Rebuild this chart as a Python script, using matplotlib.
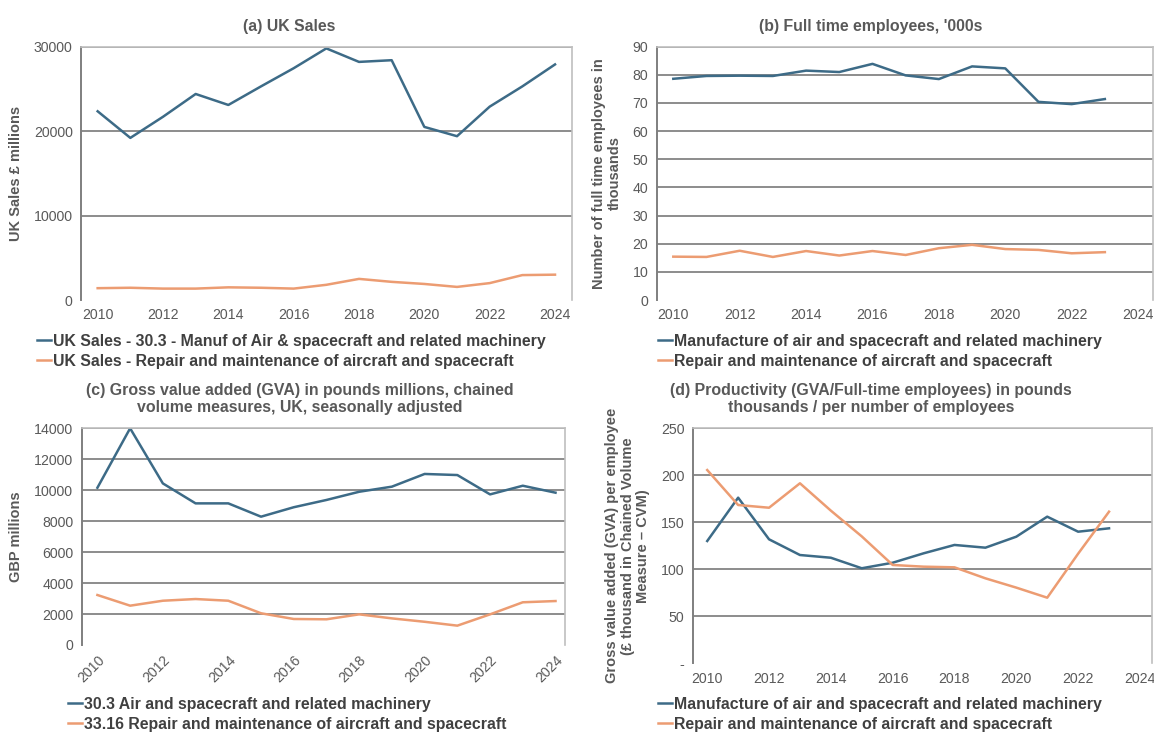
import matplotlib
matplotlib.use("Agg")
from matplotlib import pyplot as plt

plt.rcParams['font.family'] = ['Liberation Sans', 'DejaVu Sans']

years = list(range(2010, 2025))
years_emp = list(range(2010, 2024))

# (a) UK Sales, £ millions
sales_manuf = [22350, 19200, 21700, 24400, 23100, 25300, 27450, 29800,
               28200, 28400, 20500, 19400, 22900, 25300, 27900]
sales_repair = [1400, 1450, 1350, 1350, 1500, 1450, 1350, 1800,
                2500, 2150, 1900, 1550, 2000, 2950, 3000]

# (b) full time employees, thousands
emp_manuf = [78.6, 79.6, 79.7, 79.6, 81.5, 81.0, 83.9, 79.8,
             78.5, 83.0, 82.3, 70.4, 69.6, 71.4]
emp_repair = [15.4, 15.3, 17.5, 15.3, 17.4, 15.8, 17.4, 16.0,
              18.4, 19.6, 18.1, 17.8, 16.6, 17.0]

# (c) GVA, GBP millions, CVM
gva_manuf = [10160, 14000, 10440, 9150, 9150, 8290, 8900, 9370,
             9900, 10230, 11050, 10980, 9730, 10290, 9840]
gva_repair = [3230, 2540, 2860, 2970, 2860, 2050, 1680, 1660,
              1980, 1720, 1500, 1250, 1980, 2760, 2840]

# (d) productivity, £ thousand per employee
prod_manuf = [130.1, 176.2, 131.9, 115.2, 112.3, 101.1, 107.0, 117.0,
              125.9, 123.0, 134.7, 156.0, 140.0, 143.6]
prod_repair = [205.6, 168.4, 165.5, 191.5, 162.4, 135.0, 104.6, 102.8,
               102.1, 90.4, 80.5, 69.8, 116.6, 161.3]

BLUE = "#3d6b87"
ORANGE = "#ec9c72"
GRID = "#8c8c8c"
TXT = "#595959"
DARK = "#404040"

W, H = 1154, 734
fig = plt.figure(figsize=(W / 100, H / 100), dpi=100)


def box(l, r, t, b):
    return [l / W, 1 - b / H, (r - l) / W, (b - t) / H]


def style(ax, yticks, ylim, xlim, rotate=False, ylabels=None):
    ax.set_xlim(*xlim)
    ax.set_ylim(*ylim)
    ax.set_yticks(yticks)
    if ylabels is not None:
        ax.set_yticklabels(ylabels)
    ax.set_xticks(range(2010, 2025, 2))
    for y in yticks[1:]:
        ax.axhline(y, color=GRID, lw=1.4, zorder=0)
    ax.spines['bottom'].set_visible(False)
    ax.spines['left'].set_color("#7f7f7f")
    ax.spines['left'].set_linewidth(1.4)
    for s in ('top', 'right'):
        ax.spines[s].set_color("#bfbfbf")
        ax.spines[s].set_linewidth(1.2)
    ax.tick_params(length=0, labelsize=10.2, labelcolor=TXT, pad=6)
    if rotate:
        plt.setp(ax.get_xticklabels(), rotation=45, ha='right',
                 rotation_mode='anchor')


def legend(ax, x, y, labels):
    h = ax.get_lines()
    fig.legend(h, labels, loc='upper left', bbox_to_anchor=(x / W, 1 - y / H),
               frameon=False, handlelength=0.9, handletextpad=0.1,
               labelspacing=0.3, borderaxespad=0, borderpad=0,
               prop={'size': 11.4, 'weight': 'bold'}, labelcolor=DARK)


def title(x, y, text):
    fig.text(x / W, 1 - y / H, text, ha='center', va='center',
             fontsize=11.4, fontweight='bold', color=TXT, linespacing=1.2)


# (a)
ax = fig.add_axes(box(81, 572, 46.7, 300))
ax.plot(years, sales_manuf, color=BLUE, lw=1.8)
ax.plot(years, sales_repair, color=ORANGE, lw=1.8)
style(ax, [0, 10000, 20000, 30000], (0, 30000), (2009.49, 2024.52))
ax.set_ylabel("UK Sales £ millions", fontsize=10.5, fontweight='bold',
              color=TXT, labelpad=8)
title(289, 27, "(a) UK Sales")
legend(ax, 37, 334, ["UK Sales - 30.3 - Manuf of Air & spacecraft and related machinery",
                     "UK Sales - Repair and maintenance of aircraft and spacecraft"])

# (b)
ax = fig.add_axes(box(656.7, 1153, 46.7, 300))
ax.plot(years_emp, emp_manuf, color=BLUE, lw=1.8)
ax.plot(years_emp, emp_repair, color=ORANGE, lw=1.8)
style(ax, list(range(0, 100, 10)), (0, 90), (2009.5, 2024.45))
ax.set_ylabel("Number of full time employees in\nthousands", fontsize=10.5,
              fontweight='bold', color=TXT, labelpad=8, linespacing=1.1)
title(871, 27, "(b) Full time employees, '000s")
legend(ax, 658, 334, ["Manufacture of air and spacecraft and related machinery",
                      "Repair and maintenance of aircraft and spacecraft"])

# (c)
ax = fig.add_axes(box(81.7, 565, 428.3, 645))
ax.plot(years, gva_manuf, color=BLUE, lw=1.8)
ax.plot(years, gva_repair, color=ORANGE, lw=1.8)
style(ax, list(range(0, 16000, 2000)), (0, 14000), (2009.52, 2024.29), rotate=True)
ax.set_ylabel("GBP millions", fontsize=10.5, fontweight='bold',
              color=TXT, labelpad=8)
title(300, 399, "(c) Gross value added (GVA) in pounds millions, chained\n"
                "volume measures, UK, seasonally adjusted")
legend(ax, 68, 697, ["30.3 Air and spacecraft and related machinery",
                     "33.16 Repair and maintenance of aircraft and spacecraft"])

# (d)
ax = fig.add_axes(box(692.7, 1152, 428.3, 663.3))
ax.plot(years_emp, prod_manuf, color=BLUE, lw=1.8)
ax.plot(years_emp, prod_repair, color=ORANGE, lw=1.8)
style(ax, [0, 50, 100, 150, 200, 250], (0, 250), (2009.53, 2024.39),
      ylabels=["-", "50", "100", "150", "200", "250"])
ax.set_ylabel("Gross value added (GVA) per employee\n(£ thousand in Chained Volume\n"
              "Measure \u2013 CVM)", fontsize=10.5, fontweight='bold',
              color=TXT, labelpad=8, linespacing=1.1)
title(871, 399, "(d) Productivity (GVA/Full-time employees) in pounds\n"
                "thousands / per number of employees")
legend(ax, 658, 697, ["Manufacture of air and spacecraft and related machinery",
                      "Repair and maintenance of aircraft and spacecraft"])

fig.savefig("out.png", dpi=100, facecolor="white")
